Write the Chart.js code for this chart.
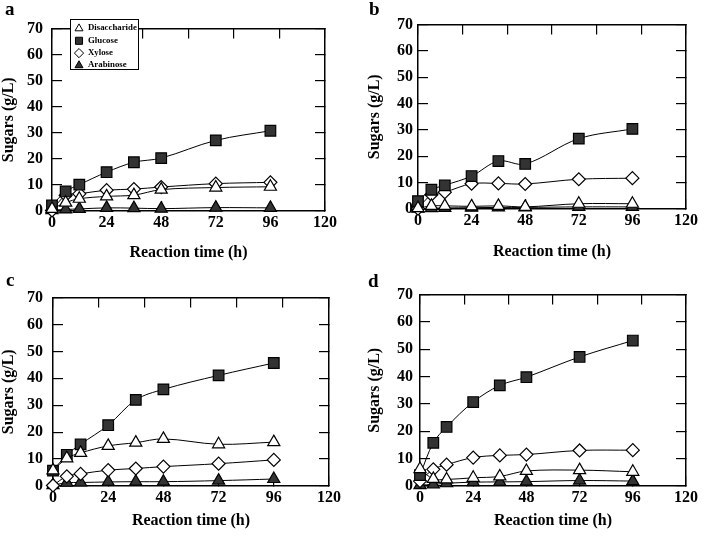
<!DOCTYPE html>
<html lang="en">
<head>
    <meta charset="UTF-8">
    <title>Sugars during reaction</title>
    <script src="https://cdn.jsdelivr.net/npm/chart.js"></script>
    <style>
        body { margin: 0; background: #fff; }
        .panel { position: absolute; }
        .letter { position: absolute; font: bold 19px "Liberation Serif", serif; line-height: 19px; color: #000; }
    </style>
</head>
<body>
    <div class="panel" style="left:0;top:0"><canvas id="chartA" width="355" height="268"></canvas></div>
    <div class="panel" style="left:355px;top:0"><canvas id="chartB" width="355" height="268"></canvas></div>
    <div class="panel" style="left:0;top:268px"><canvas id="chartC" width="355" height="269"></canvas></div>
    <div class="panel" style="left:355px;top:268px"><canvas id="chartD" width="355" height="269"></canvas></div>
    <div class="letter" style="left:5px;top:-1px">a</div>
    <div class="letter" style="left:369px;top:-1px">b</div>
    <div class="letter" style="left:6px;top:270px">c</div>
    <div class="letter" style="left:368px;top:271px">d</div>

    <script>
        // reaction times (h)
        const times = [0, 6, 12, 24, 36, 48, 72, 96];
        const seriesNames = ['Disaccharide', 'Glucose', 'Xylose', 'Arabinose'];

        // panel a
        const disaccharideA = [0.8, 3.2, 4.7, 5.6, 6.1, 8.2, 9.0, 9.3];
        const glucoseA = [2.1, 7.5, 10.1, 14.9, 18.7, 20.3, 27.1, 30.8];
        const xyloseA = [0.2, 6.0, 6.6, 8.0, 8.4, 9.2, 10.5, 11.0];
        const arabinoseA = [0.3, 0.6, 0.8, 1.2, 1.1, 0.9, 1.3, 1.2];

        // panel b
        const disaccharideB = [0.3, 1.2, 1.2, 1.0, 1.2, 0.8, 2.0, 2.0];
        const glucoseB = [3.0, 7.3, 9.0, 12.5, 18.2, 17.1, 26.7, 30.4];
        const xyloseB = [0.1, 5.4, 6.4, 9.6, 9.7, 9.5, 11.3, 11.7];
        const arabinoseB = [0.1, 0.3, 0.4, 0.5, 0.6, 0.6, 0.8, 0.8];

        // panel c
        const disaccharideC = [5.8, 10.3, 12.3, 14.9, 16.1, 17.5, 15.5, 16.3];
        const glucoseC = [5.7, 11.6, 15.5, 22.6, 32.0, 35.9, 41.1, 45.7];
        const xyloseC = [0.2, 3.6, 4.5, 5.9, 6.5, 7.2, 8.3, 9.7];
        const arabinoseC = [0.3, 1.2, 1.3, 1.5, 1.6, 1.6, 2.0, 2.6];

        // panel d
        const disaccharideD = [6.2, 2.6, 2.4, 3.0, 3.5, 5.5, 5.8, 5.2];
        const glucoseD = [4.0, 15.8, 21.6, 30.7, 36.8, 39.8, 47.2, 53.2];
        const xyloseD = [1.8, 6.1, 7.8, 10.4, 11.2, 11.5, 13.0, 13.1];
        const arabinoseD = [0.3, 0.6, 1.0, 1.4, 1.5, 1.6, 2.0, 1.8];

        const xTicks = { min: 0, max: 120, step: 24, topStep: 20 };
        const yTicks = { min: 0, max: 70, step: 10 };

        const markers = [
            { style: 'triangle', fill: '#fff', radius: 7 },
            { style: 'rect', fill: '#333', radius: 7.5 },
            { style: 'rectRot', fill: '#fff', radius: 6.5 },
            { style: 'triangle', fill: '#333', radius: 7 }
        ];

        const serif = '"Liberation Serif", "Times New Roman", serif';

        // legend drawn in a box inside the plot area
        const boxLegend = {
            id: 'boxLegend',
            afterDatasetsDraw(chart, args, opts) {
                if (!opts.show) return;
                const ctx = chart.ctx;
                ctx.save();
                ctx.fillStyle = '#fff';
                ctx.fillRect(opts.x, opts.y, opts.w, opts.h);
                ctx.strokeStyle = '#000';
                ctx.lineWidth = 1;
                ctx.strokeRect(opts.x + 0.5, opts.y + 0.5, opts.w, opts.h);
                chart.data.datasets.forEach((ds, i) => {
                    const cy = opts.y + 9 + i * 12.3;
                    ctx.fillStyle = ds.pointBackgroundColor;
                    ctx.strokeStyle = '#000';
                    ctx.lineWidth = 1;
                    Chart.helpers.drawPoint(ctx, {
                        pointStyle: ds.pointStyle,
                        radius: ds.pointStyle === 'rect' ? 5 : 4.6,
                        borderWidth: 1,
                        rotation: 0
                    }, opts.x + 9, cy + 0.5);
                    ctx.fillStyle = '#000';
                    ctx.font = 'bold 8.8px ' + serif;
                    ctx.textBaseline = 'middle';
                    ctx.textAlign = 'left';
                    ctx.fillText(ds.label, opts.x + 18, cy);
                });
                ctx.restore();
            }
        };

        function makeDatasets(lists) {
            return lists.map((vals, i) => ({
                label: seriesNames[i],
                data: times.map((t, j) => ({ x: t, y: vals[j] })),
                borderColor: '#000',
                borderWidth: 1,
                tension: 0.35,
                clip: false,
                pointStyle: markers[i].style,
                pointRadius: markers[i].radius,
                pointBackgroundColor: markers[i].fill,
                pointBorderColor: '#000',
                pointBorderWidth: 1.2,
                fill: false
            }));
        }

        function frameGrid() {
            return { drawOnChartArea: false, drawTicks: true, tickLength: -10, color: '#000', lineWidth: 1.2 };
        }

        function makePanel(id, lists, g, legend) {
            const font = { family: serif, size: 16, weight: 'bold' };
            const border = { color: '#000', width: 1.5 };
            return new Chart(document.getElementById(id), {
                type: 'line',
                data: { datasets: makeDatasets(lists) },
                plugins: [boxLegend],
                options: {
                    responsive: false,
                    animation: false,
                    layout: { padding: { left: 0, top: g.top, right: g.w - g.right, bottom: 0 } },
                    plugins: {
                        legend: { display: false },
                        tooltip: { enabled: false },
                        boxLegend: legend || { show: false }
                    },
                    scales: {
                        x: {
                            type: 'linear', position: 'bottom',
                            min: xTicks.min, max: xTicks.max,
                            ticks: { stepSize: xTicks.step, font: font, color: '#000', padding: 12, maxRotation: 0 },
                            grid: frameGrid(), border: border,
                            title: { display: true, text: 'Reaction time (h)', font: font, color: '#000', padding: { top: 0, bottom: g.xTitlePad } },
                            afterFit: s => { s.height = g.h - g.bottom; }
                        },
                        x2: {
                            type: 'linear', position: 'top',
                            min: xTicks.min, max: xTicks.max,
                            ticks: { stepSize: xTicks.topStep, display: false },
                            grid: frameGrid(), border: border,
                            afterFit: s => { s.height = 0; }
                        },
                        y: {
                            type: 'linear', position: 'left',
                            min: yTicks.min, max: yTicks.max,
                            ticks: { stepSize: yTicks.step, font: font, color: '#000', padding: g.yGap + 10 },
                            grid: frameGrid(), border: border,
                            title: { display: true, text: 'Sugars (g/L)', font: font, color: '#000', padding: { top: g.yTitlePad, bottom: 0 } },
                            afterFit: s => { s.width = g.left; }
                        },
                        y2: {
                            type: 'linear', position: 'right',
                            min: yTicks.min, max: yTicks.max,
                            ticks: { stepSize: yTicks.step, display: false },
                            grid: frameGrid(), border: border,
                            afterFit: s => { s.width = 0; }
                        }
                    }
                }
            });
        }

        makePanel('chartA', [disaccharideA, glucoseA, xyloseA, arabinoseA],
            { w: 355, h: 268, left: 52, right: 325, top: 8, bottom: 211, yGap: 9, yTitlePad: -1, xTitlePad: 6 },
            { show: true, x: 70, y: 19, w: 68, h: 50 });
        makePanel('chartB', [disaccharideB, glucoseB, xyloseB, arabinoseB],
            { w: 355, h: 268, left: 63, right: 339, top: 7, bottom: 209, yGap: 5, yTitlePad: 10, xTitlePad: 7 });
        makePanel('chartC', [disaccharideC, glucoseC, xyloseC, arabinoseC],
            { w: 355, h: 269, left: 53, right: 329, top: 15, bottom: 218, yGap: 10, yTitlePad: -1, xTitlePad: 7 });
        makePanel('chartD', [disaccharideD, glucoseD, xyloseD, arabinoseD],
            { w: 355, h: 269, left: 65, right: 340, top: 15, bottom: 218, yGap: 7, yTitlePad: 10, xTitlePad: 7 });
    </script>
</body>
</html>
